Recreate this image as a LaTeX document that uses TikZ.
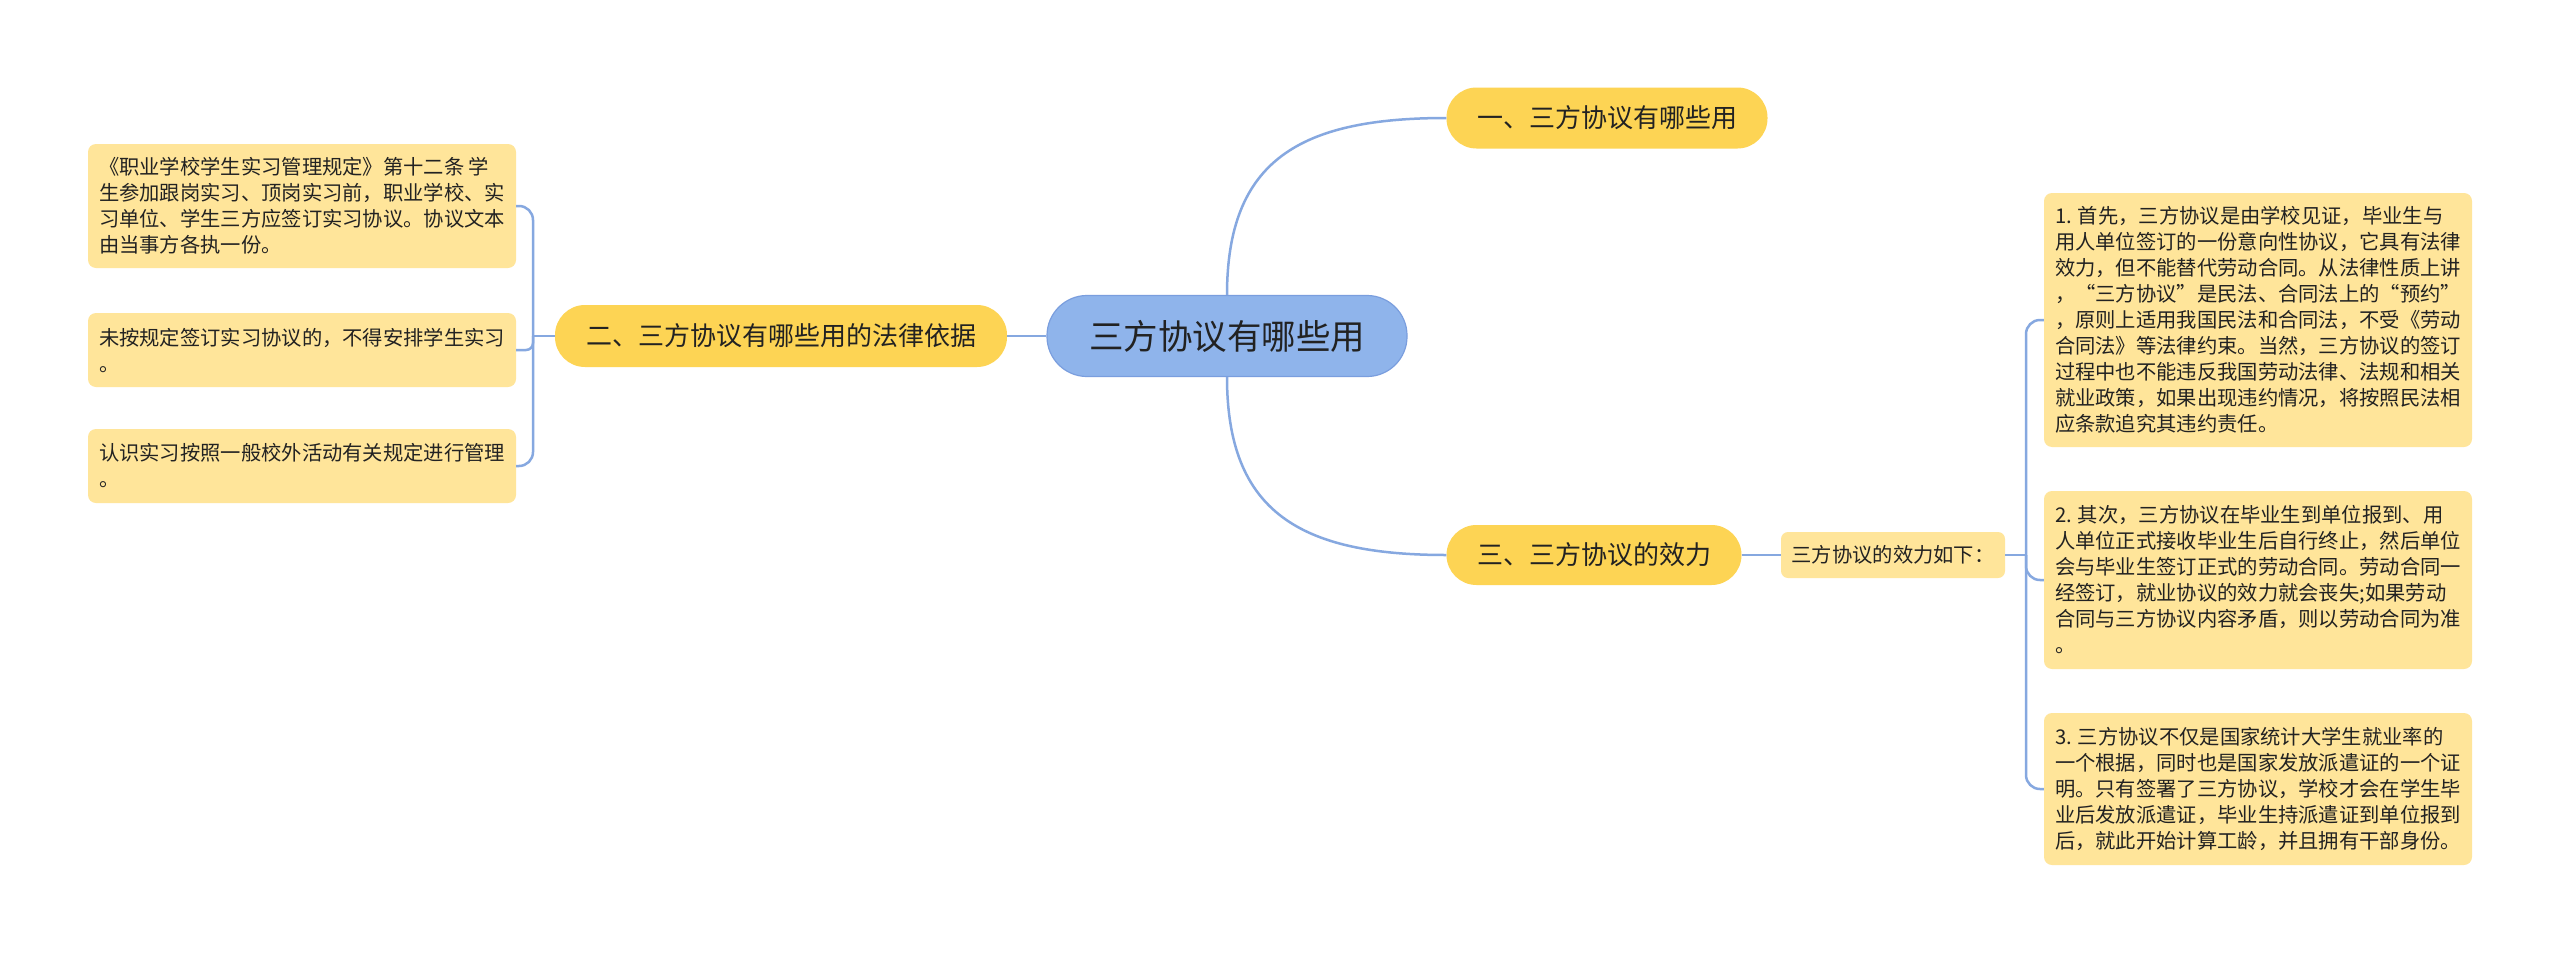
\documentclass[tikz,border=0pt]{standalone}
\usepackage{fontspec}
\setmainfont{Noto Sans CJK SC}
\definecolor{lnk}{RGB}{134,168,224}
\definecolor{ctrfill}{RGB}{143,180,235}
\definecolor{ctrdraw}{RGB}{122,158,222}
\definecolor{mainfill}{RGB}{253,212,84}
\definecolor{leaffill}{RGB}{255,229,154}
\definecolor{txt}{RGB}{34,34,34}
\tikzset{
  link/.style={draw=lnk, line width=2.5pt},
  ctr/.style={fill=ctrfill, draw=ctrdraw, line width=1.2pt, rounded corners=40pt, inner sep=0pt,
    minimum width=360pt, minimum height=81pt, text=txt, font=\fontsize{34.5pt}{40pt}\selectfont},
  mainbox/.style={fill=mainfill, rounded corners=30pt, inner sep=0pt, minimum height=61pt,
    text=txt, font=\fontsize{26pt}{30pt}\selectfont},
  leaf/.style={fill=leaffill, rounded corners=8pt, inner sep=0pt, align=left, minimum width=428pt,
    text=txt, font=\fontsize{20.3pt}{26pt}\selectfont},
}
\begin{document}
\begin{tikzpicture}[x=1pt,y=-1pt]
\useasboundingbox[fill=white] (0,0) rectangle (2560,953);

\node[ctr] (c) at (1227,336) {三方协议有哪些用};
\node[mainbox, minimum width=321pt] (n1) at (1607,118) {一、三方协议有哪些用};
\node[mainbox, minimum width=452pt, minimum height=62pt] (n2) at (781,336) {二、三方协议有哪些用的法律依据};
\node[mainbox, minimum width=295pt, minimum height=60pt] (n3) at (1594,555) {三、三方协议的效力};

\node[leaf, minimum height=124pt] (l1) at (302,206) {《职业学校学生实习管理规定》第十二条 学\\生参加跟岗实习、顶岗实习前，职业学校、实\\习单位、学生三方应签订实习协议。协议文本\\由当事方各执一份。};
\node[leaf, minimum height=74pt] (l2) at (302,350) {未按规定签订实习协议的，不得安排学生实习\\。};
\node[leaf, minimum height=74pt] (l3) at (302,466) {认识实习按照一般校外活动有关规定进行管理\\。};

\node[leaf, minimum width=224pt, minimum height=46pt, rounded corners=7pt] (k) at (1893,555) {三方协议的效力如下：};

\node[leaf, minimum height=254pt] (r1) at (2258,320) {1. 首先，三方协议是由学校见证，毕业生与\\用人单位签订的一份意向性协议，它具有法律\\效力，但不能替代劳动合同。从法律性质上讲\\，“三方协议”是民法、合同法上的“预约”\\，原则上适用我国民法和合同法，不受《劳动\\合同法》等法律约束。当然，三方协议的签订\\过程中也不能违反我国劳动法律、法规和相关\\就业政策，如果出现违约情况，将按照民法相\\应条款追究其违约责任。};
\node[leaf, minimum height=178pt] (r2) at (2258,580) {2. 其次，三方协议在毕业生到单位报到、用\\人单位正式接收毕业生后自行终止，然后单位\\会与毕业生签订正式的劳动合同。劳动合同一\\经签订，就业协议的效力就会丧失;如果劳动\\合同与三方协议内容矛盾，则以劳动合同为准\\。};
\node[leaf, minimum height=152pt] (r3) at (2258,789) {3. 三方协议不仅是国家统计大学生就业率的\\一个根据，同时也是国家发放派遣证的一个证\\明。只有签署了三方协议，学校才会在学生毕\\业后发放派遣证，毕业生持派遣证到单位报到\\后，就此开始计算工龄，并且拥有干部身份。};

% connectors
\draw[link] (c.north) .. controls (1227,160) and (1300,118) .. (n1.west);
\draw[link] (c.south) .. controls (1227,512) and (1300,555) .. (n3.west);
\draw[link] (c.west) -- (n2.east);

\coordinate (jl) at (533,336);
\draw[link] (n2.west) -- (jl);
\draw[link, rounded corners=14pt] (jl) |- (l1.east);
\draw[link, rounded corners=7pt] (jl) |- (l2.east);
\draw[link, rounded corners=14pt] (jl) |- (l3.east);

\draw[link] (n3.east) -- (k.west);
\coordinate (jr) at (2026,555);
\draw[link] (k.east) -- (jr);
\draw[link, rounded corners=14pt] (jr) |- (r1.west);
\draw[link, rounded corners=14pt] (jr) |- (r2.west);
\draw[link, rounded corners=14pt] (jr) |- (r3.west);
\end{tikzpicture}
\end{document}
